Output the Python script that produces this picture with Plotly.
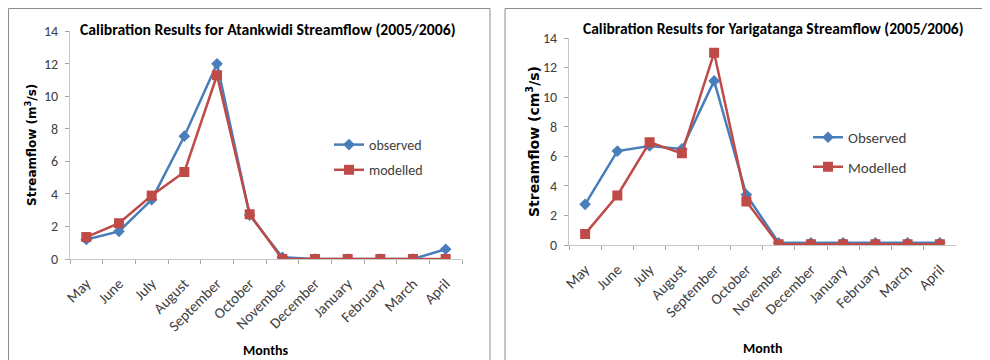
import plotly.graph_objects as go

months = ["May", "June", "July", "August", "September", "October", "November",
          "December", "January", "February", "March", "April"]

atank_observed = [1.2, 1.7, 3.65, 7.55, 12.0, 2.7, 0.1, 0.0, 0.0, 0.0, 0.0, 0.6]
atank_modelled = [1.35, 2.2, 3.9, 5.35, 11.3, 2.75, 0.0, 0.0, 0.0, 0.0, 0.0, 0.0]

yari_observed = [2.75, 6.35, 6.7, 6.5, 11.1, 3.4, 0.15, 0.15, 0.15, 0.15, 0.15, 0.15]
yari_modelled = [0.75, 3.35, 6.95, 6.2, 13.0, 2.95, 0.05, 0.05, 0.05, 0.05, 0.05, 0.05]

y_ticks = [0, 2, 4, 6, 8, 10, 12, 14]

BLUE = "#4a7ebb"
RED = "#be4b48"
FONT = "Carlito, Lato, sans-serif"
W, H = 990, 360
OFF = 8  # page body margin offset of the plot div


def P(x):
    """Screen x pixel -> paper fraction."""
    return (x - OFF) / W


def Q(y):
    """Screen y pixel -> paper fraction."""
    return 1 - (y - OFF) / H


fig = go.Figure()


def add_pair(obs, mod, xa, ya, names, legend):
    fig.add_trace(go.Scatter(x=months, y=obs, name=names[0], mode="lines+markers",
                             line=dict(color=BLUE, width=2.5),
                             marker=dict(symbol="diamond", size=9, color=BLUE),
                             xaxis=xa, yaxis=ya, legend=legend, legendgroup=names[0]))
    fig.add_trace(go.Scatter(x=months, y=mod, name=names[1], mode="lines+markers",
                             line=dict(color=RED, width=2.5),
                             marker=dict(symbol="square", size=10, color=RED),
                             xaxis=xa, yaxis=ya, legend=legend, legendgroup=names[1]))


add_pair(atank_observed, atank_modelled, "x", "y", ["observed", "modelled"], "legend")
add_pair(yari_observed, yari_modelled, "x2", "y2", ["Observed", "Modelled"], "legend2")

axis_common = dict(showline=True, linecolor="#c6c6c6", linewidth=1,
                   ticks="outside", tickcolor="#a6a6a6", ticklen=4,
                   showgrid=False, zeroline=False, automargin=False)
xtick_font = dict(family=FONT, size=15, color="#404040")
ytick_font = dict(family=FONT, size=14, color="#404040")

fig.update_layout(
    width=W, height=H,
    margin=dict(l=0, r=0, t=0, b=0, autoexpand=False),
    paper_bgcolor="white", plot_bgcolor="white",
    xaxis=dict(domain=[P(70), P(462)], anchor="y", tickangle=-45, tickson="boundaries",
               range=[-0.5, 11.5], tickfont=xtick_font, ticklabelstandoff=9, **axis_common),
    yaxis=dict(domain=[Q(259), Q(31)], anchor="x", range=[0, 14.02], tickvals=y_ticks,
               tickfont=ytick_font, ticklabelstandoff=4, **axis_common),
    xaxis2=dict(domain=[P(569), P(956)], anchor="y2", tickangle=-45, tickson="boundaries",
                range=[-0.5, 11.5], tickfont=xtick_font, ticklabelstandoff=9, **axis_common),
    yaxis2=dict(domain=[Q(245), Q(37.7)], anchor="x2", range=[0, 14.02], tickvals=y_ticks,
                tickfont=ytick_font, ticklabelstandoff=4, **axis_common),
    legend=dict(x=P(329), y=Q(129), xanchor="left", yanchor="top",
                font=dict(family=FONT, size=14, color="#404040"),
                traceorder="grouped", tracegroupgap=4, itemwidth=30,
                bgcolor="rgba(0,0,0,0)"),
    legend2=dict(x=P(808), y=Q(121), xanchor="left", yanchor="top",
                 font=dict(family=FONT, size=15, color="#404040"),
                 traceorder="grouped", tracegroupgap=7, itemwidth=30,
                 bgcolor="rgba(0,0,0,0)"),
    showlegend=True,
)

fig.add_annotation(text="<b>Calibration Results for Atankwidi Streamflow (2005/2006)</b>",
                   x=P(268), y=Q(29), xref="paper", yref="paper",
                   showarrow=False, font=dict(family=FONT, size=15.7, color="#000000"),
                   xanchor="center", yanchor="middle")
fig.add_annotation(text="<b>Calibration Results for Yarigatanga Streamflow (2005/2006)</b>",
                   x=P(773), y=Q(28), xref="paper", yref="paper",
                   showarrow=False, font=dict(family=FONT, size=15.5, color="#000000"),
                   xanchor="center", yanchor="middle")

fig.add_annotation(text="<b>Streamflow (m<sup>3</sup>/s)</b>", x=P(31), y=Q(145),
                   xref="paper", yref="paper", showarrow=False, textangle=-90,
                   font=dict(family="DejaVu Sans, sans-serif", size=12, color="#000000"),
                   xanchor="center", yanchor="middle")
fig.add_annotation(text="<b>Streamflow (cm<sup>3</sup>/s)</b>", x=P(533), y=Q(142),
                   xref="paper", yref="paper", showarrow=False, textangle=-90,
                   font=dict(family="DejaVu Sans, sans-serif", size=14, color="#000000"),
                   xanchor="center", yanchor="middle")

xt_font = dict(family=FONT, size=14, color="#000000")
fig.add_annotation(text="<b>Months</b>", x=P(266), y=Q(350), xref="paper", yref="paper",
                   showarrow=False, font=xt_font, xanchor="center", yanchor="middle")
fig.add_annotation(text="<b>Month</b>", x=P(763), y=Q(348), xref="paper", yref="paper",
                   showarrow=False, font=xt_font, xanchor="center", yanchor="middle")

frame = dict(type="rect", xref="paper", yref="paper",
             line=dict(color="#8c8c8c", width=1), fillcolor="rgba(0,0,0,0)", layer="below")
fig.add_shape(x0=0.5 / W, x1=P(490), y0=-0.1, y1=1 - 0.5 / H, **frame)
fig.add_shape(x0=P(505), x1=1.1, y0=-0.1, y1=1 - 0.5 / H, **frame)

fig.write_html("out.html")
